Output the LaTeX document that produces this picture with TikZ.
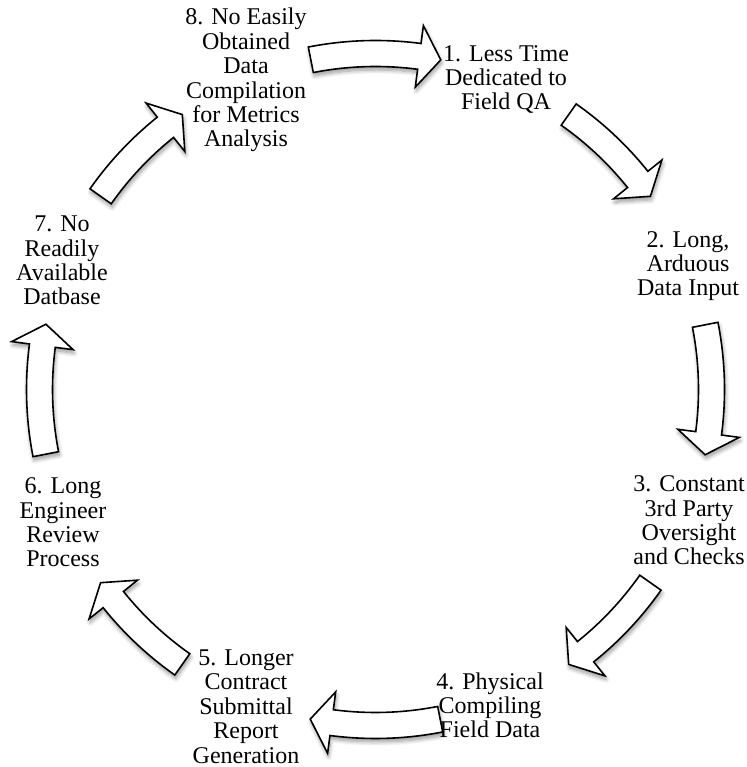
\documentclass[tikz,border=0pt]{standalone}
\usepackage{fontspec}
\setmainfont{Liberation Serif}
\usetikzlibrary{shadows.blur}
\begin{document}
\begin{tikzpicture}[x=1pt,y=1pt,
  steplabel/.style={anchor=base, align=center, inner sep=0pt,
    font=\fontsize{24}{24.4}\selectfont},
  cyclearrow/.style={draw=black, fill=white, line width=1.6pt, line join=miter,
    blur shadow={shadow xshift=1pt, shadow yshift=-3.5pt,
      shadow blur radius=4pt, shadow blur steps=8, shadow opacity=40}}]
\useasboundingbox (0,0) rectangle (746,767);
\coordinate (ctr) at (375.5,377.5);

% curved block arrows around the cycle (centre angle / tail / head base / tip offsets)
\foreach \c/\t/\b/\p in {90/11.1/7.5/11.2, 45/9.9/6.3/9.9, 0/11.1/7.5/11.2,
    -45/9.9/6.3/9.9, -90/11.1/7.5/11.2, -135/9.9/6.3/9.9,
    -180/11.1/7.5/11.2, -225/9.9/6.3/9.9}{
  \path[cyclearrow, shift={(ctr)}]
    ({\c+\t}:349) arc[start angle={\c+\t}, end angle={\c-\b}, radius=349]
    -- ({\c-\b}:367) -- ({\c-\p}:336) -- ({\c-\b}:305) -- ({\c-\b}:323)
    arc[start angle={\c-\b}, end angle={\c+\t}, radius=323] -- cycle;
}

% step labels (positioned by the baseline of their last line)
\node[steplabel] (l1) at (506,657) {1. Less Time\\Dedicated to\\Field QA};
\node[steplabel] (l2) at (688,471) {2. Long,\\Arduous\\Data Input};
\node[steplabel] (l3) at (689,202) {3. Constant\\3rd Party\\Oversight\\and Checks};
\node[steplabel] (l4) at (490,29) {4. Physical\\Compiling\\Field Data};
\node[steplabel] (l5) at (246,4) {5. Longer\\Contract\\Submittal\\Report\\Generation};
\node[steplabel] (l6) at (63,200) {6. Long\\Engineer\\Review\\Process};
\node[steplabel] (l7) at (62,462) {7. No\\Readily\\Available\\Datbase};
\node[steplabel] (l8) at (246,620) {8. No Easily\\Obtained\\Data\\Compilation\\for Metrics\\Analysis};
\end{tikzpicture}
\end{document}
